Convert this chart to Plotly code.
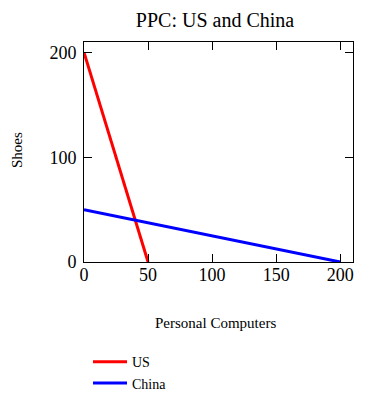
import plotly.graph_objects as go

us_x = [0, 50]
us_y = [200, 0]
china_x = [0, 200]
china_y = [50, 0]
tick_vals_x = [0, 50, 100, 150, 200]
tick_vals_y = [0, 100, 200]

font = "Liberation Serif, Times New Roman, serif"

fig = go.Figure()
fig.add_trace(go.Scatter(x=us_x, y=us_y, mode="lines", name="US",
                         line=dict(color="#ff0000", width=3)))
fig.add_trace(go.Scatter(x=china_x, y=china_y, mode="lines", name="China",
                         line=dict(color="#0000ff", width=3)))

axis_common = dict(showline=True, mirror="ticks", linecolor="black", linewidth=1,
                   ticks="inside", ticklen=8, tickcolor="black", tickwidth=1,
                   showgrid=False, zeroline=False, automargin=False, tickangle=0,
                   tickfont=dict(family=font, size=18, color="black"))

fig.update_layout(
    width=381, height=397,
    paper_bgcolor="white", plot_bgcolor="white",
    margin=dict(l=76, r=36, t=34, b=143, autoexpand=False),
    title=dict(text="PPC: US and China", x=207 / 381, xref="container", y=1 - 12 / 397, yref="container",
               xanchor="center", yanchor="middle",
               font=dict(family=font, size=20, color="black")),
    xaxis=dict(range=[0, 210], tickvals=tick_vals_x, ticklabelstandoff=-4, **axis_common),
    yaxis=dict(range=[0, 210], tickvals=tick_vals_y, ticklabelstandoff=3, **axis_common),
    legend=dict(x=0.21, xref="container", y=0.148, yref="container", xanchor="left", yanchor="top",
                font=dict(family=font, size=14, color="black"),
                itemwidth=34, tracegroupgap=0, bgcolor="rgba(0,0,0,0)"),
    showlegend=True,
    annotations=[
        dict(text="Personal Computers", x=0.49, xref="paper", y=-0.277, yref="paper",
             showarrow=False, xanchor="center", yanchor="middle",
             font=dict(family=font, size=15, color="black")),
        dict(text="Shoes", x=-0.249, xref="paper", y=0.509, yref="paper", textangle=-90,
             showarrow=False, xanchor="center", yanchor="middle",
             font=dict(family=font, size=15, color="black")),
    ],
)
fig.write_html("out.html")
